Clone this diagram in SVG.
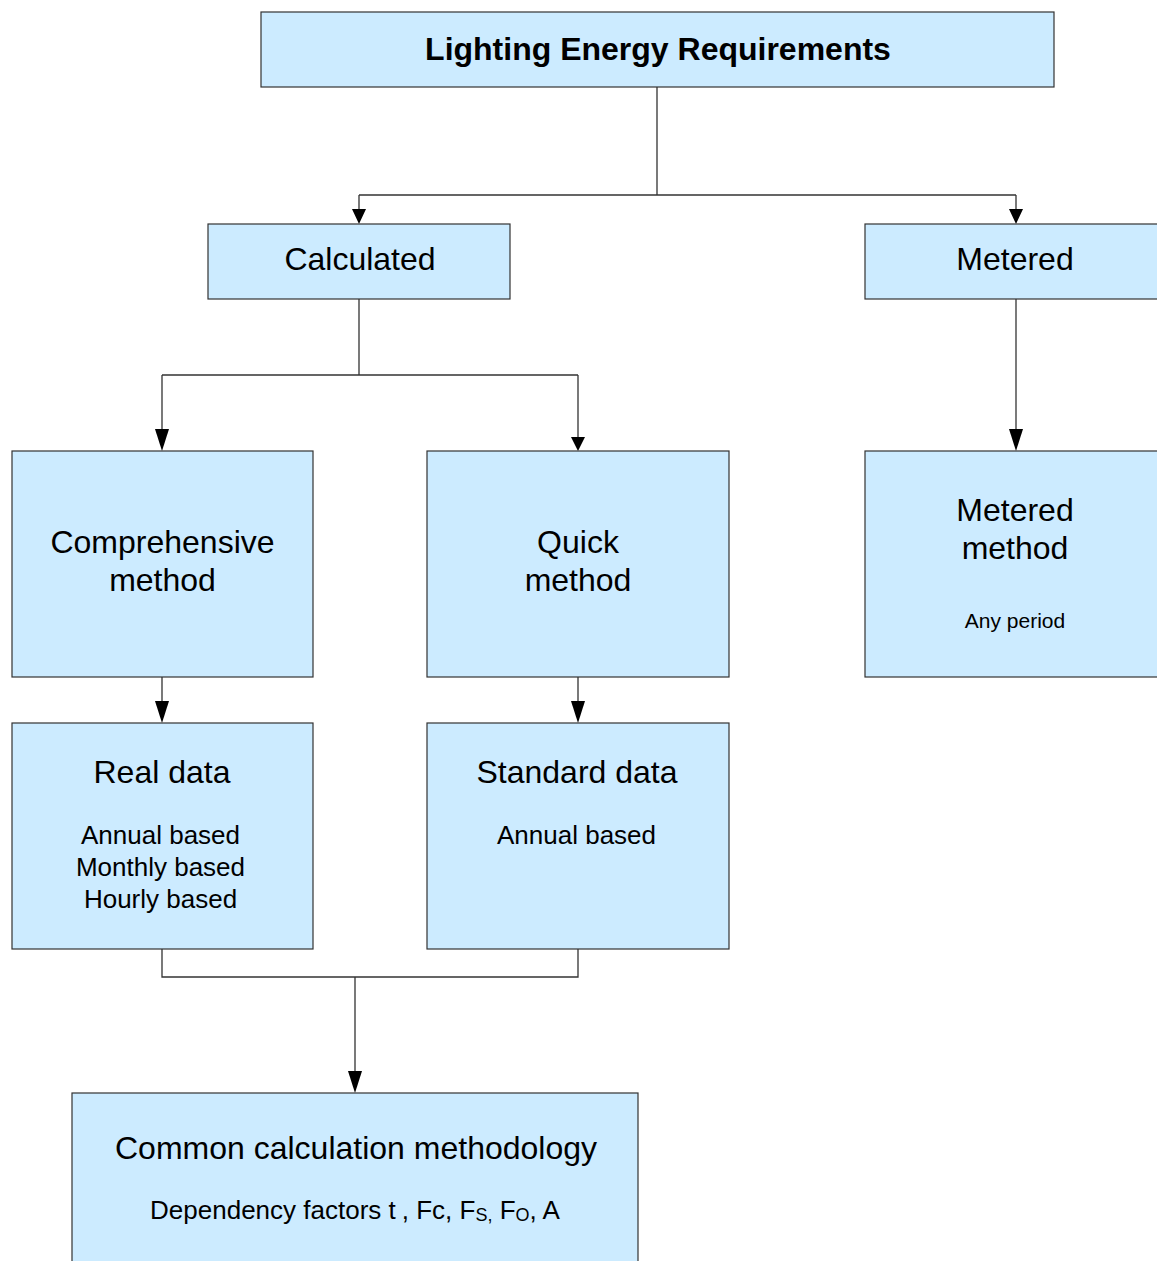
<svg xmlns="http://www.w3.org/2000/svg" width="1157" height="1261" viewBox="0 0 1157 1261">
<defs>
<style>
.box{fill:#ccebff;stroke:#333;stroke-width:1.2}
.t{font-family:"Liberation Sans",Arial,sans-serif;fill:#000;text-anchor:middle}
.big{font-size:32px}
.title{font-size:32px;font-weight:bold}
.mid{font-size:26px}
.sm{font-size:21px}
.ln{fill:none;stroke:#333;stroke-width:1.3}
.ah{fill:#000}
</style>
</defs>
<rect width="1157" height="1261" fill="#fff"/>
<g id="connectors">
<path class="ln" d="M657,87 V195 M359,195 H1016 M359,195 V210 M1016,195 V210"/>
<polygon class="ah" points="352,209 366,209 359,224"/>
<polygon class="ah" points="1009,209 1023,209 1016,224"/>
<path class="ln" d="M359,299 V375 M162,375 H578 M162,375 V430 M578,375 V438"/>
<polygon class="ah" points="155,429 169,429 162,451"/>
<polygon class="ah" points="571,437 585,437 578,451"/>
<path class="ln" d="M1016,299 V430"/>
<polygon class="ah" points="1009,429 1023,429 1016,451"/>
<path class="ln" d="M162,677 V702 M578,677 V702"/>
<polygon class="ah" points="155,701 169,701 162,723"/>
<polygon class="ah" points="571,701 585,701 578,723"/>
<path class="ln" d="M162,949 V977 H578 V949 M355,977 V1072"/>
<polygon class="ah" points="348,1071 362,1071 355,1093"/>
</g>
<g id="n-title">
<rect class="box" x="261" y="12" width="793" height="75"/>
<text class="t title" x="658" y="60">Lighting Energy Requirements</text>
</g>
<g id="n-calculated">
<rect class="box" x="208" y="224" width="302" height="75"/>
<text class="t big" x="360" y="270">Calculated</text>
</g>
<g id="n-metered">
<rect class="box" x="865" y="224" width="300" height="75"/>
<text class="t big" x="1015" y="270">Metered</text>
</g>
<g id="n-comprehensive">
<rect class="box" x="12" y="451" width="301" height="226"/>
<text class="t big" x="162.5" y="553">Comprehensive</text>
<text class="t big" x="162.5" y="591">method</text>
</g>
<g id="n-quick">
<rect class="box" x="427" y="451" width="302" height="226"/>
<text class="t big" x="578" y="553">Quick</text>
<text class="t big" x="578" y="591">method</text>
</g>
<g id="n-metered-method">
<rect class="box" x="865" y="451" width="300" height="226"/>
<text class="t big" x="1015" y="521">Metered</text>
<text class="t big" x="1015" y="559">method</text>
<text class="t sm" x="1015" y="628">Any period</text>
</g>
<g id="n-real">
<rect class="box" x="12" y="723" width="301" height="226"/>
<text class="t big" x="162" y="783">Real data</text>
<text class="t mid" x="160.5" y="844">Annual based</text>
<text class="t mid" x="160.5" y="876">Monthly based</text>
<text class="t mid" x="160.5" y="908">Hourly based</text>
</g>
<g id="n-standard">
<rect class="box" x="427" y="723" width="302" height="226"/>
<text class="t big" x="577" y="783">Standard data</text>
<text class="t mid" x="576.5" y="844">Annual based</text>
</g>
<g id="n-common">
<rect class="box" x="72" y="1093" width="566" height="180"/>
<text class="t big" x="356" y="1159">Common calculation methodology</text>
<text class="t mid" x="355" y="1219">Dependency factors t<tspan dx="6">, Fc, F</tspan><tspan font-size="18" dy="2">S,</tspan><tspan dy="-2"> F</tspan><tspan font-size="18" dy="2">O</tspan><tspan dy="-2">, A</tspan></text>
</g>
</svg>
